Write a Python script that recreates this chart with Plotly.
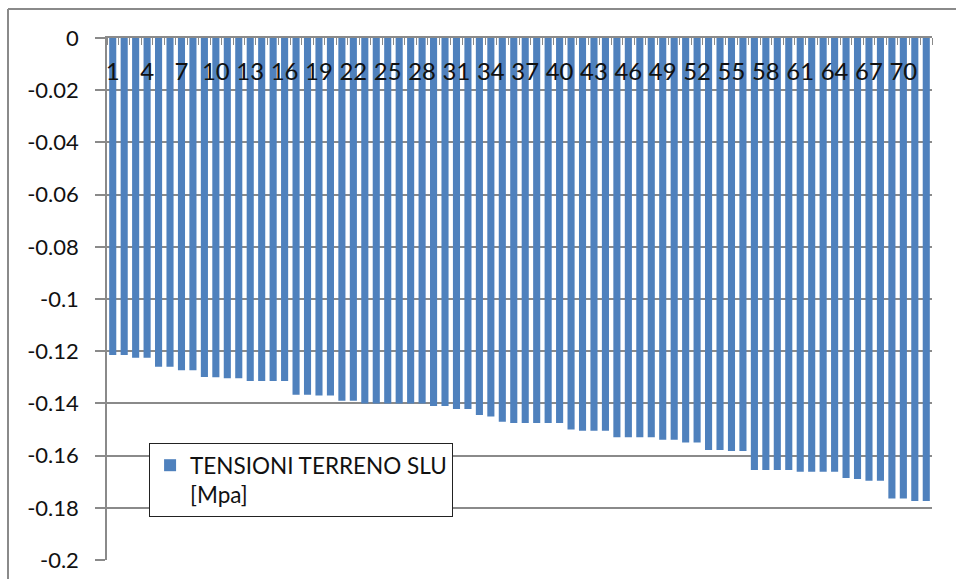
import plotly.graph_objects as go

categories = list(range(1, 73))
values = [
    -0.1215, -0.1215, -0.1225, -0.1225, -0.1260, -0.1260, -0.1273, -0.1273,
    -0.1299, -0.1300, -0.1304, -0.1304, -0.1314, -0.1314, -0.1314, -0.1314,
    -0.1367, -0.1367, -0.1370, -0.1370, -0.1390, -0.1390, -0.1400, -0.1400,
    -0.1400, -0.1400, -0.1400, -0.1400, -0.1410, -0.1410, -0.1421, -0.1421,
    -0.1444, -0.1450, -0.1470, -0.1475, -0.1475, -0.1475, -0.1475, -0.1475,
    -0.1500, -0.1505, -0.1505, -0.1505, -0.1530, -0.1530, -0.1530, -0.1530,
    -0.1539, -0.1539, -0.1550, -0.1550, -0.1579, -0.1579, -0.1582, -0.1582,
    -0.1655, -0.1655, -0.1655, -0.1655, -0.1662, -0.1662, -0.1662, -0.1662,
    -0.1686, -0.1690, -0.1696, -0.1696, -0.1764, -0.1764, -0.1774, -0.1774,
]
series_name = "TENSIONI TERRENO SLU<br>[Mpa]"
x_tick_vals = list(range(1, 73, 3))
y_tick_vals = [0, -0.02, -0.04, -0.06, -0.08, -0.1, -0.12, -0.14, -0.16, -0.18, -0.2]
y_tick_text = ["0", "-0.02", "-0.04", "-0.06", "-0.08", "-0.1", "-0.12", "-0.14", "-0.16", "-0.18", "-0.2"]

FONT = "Lato, 'Open Sans', sans-serif"
GRID = "#8a8a8a"

fig = go.Figure()
fig.add_trace(go.Bar(
    x=categories, y=values, name=series_name,
    marker=dict(color="#4F81BD", line=dict(width=0)),
    showlegend=True,
))

fig.update_layout(
    width=956, height=579,
    margin=dict(l=107, r=24, t=38, b=19, autoexpand=False),
    paper_bgcolor="white", plot_bgcolor="white",
    bargap=0.38,
    font=dict(family=FONT, size=22, color="#111111"),
    showlegend=True,
    legend=dict(
        x=0.051, y=0.224, xanchor="left", yanchor="top",
        bgcolor="white", bordercolor="#222222", borderwidth=1,
        font=dict(family=FONT, size=22.5, color="#111111"),
        valign="top",
        itemsizing="constant",
        entrywidth=294,
    ),
    xaxis=dict(
        range=[0.5, 72.5],
        side="top",
        automargin=False,
        tickmode="array", tickvals=x_tick_vals,
        ticktext=[str(v) for v in x_tick_vals],
        ticks="", ticklabelposition="inside",
        ticklabeloverflow="allow",
        ticklabelstandoff=27,
        showgrid=False, zeroline=False,
        showline=True, linecolor=GRID, linewidth=1.5,
        minor=dict(tick0=0.5, dtick=1, ticks="inside", ticklen=7,
                   tickcolor=GRID, tickwidth=1, showgrid=False),
        tickfont=dict(family=FONT, size=24, color="#111111"),
    ),
    yaxis=dict(
        range=[-0.2, 0],
        automargin=False,
        tickmode="array", tickvals=y_tick_vals, ticktext=y_tick_text,
        ticks="outside", ticklen=10, tickcolor=GRID, tickwidth=1.5,
        ticklabelstandoff=12,
        ticklabeloverflow="allow",
        showgrid=True, gridcolor=GRID, gridwidth=1.5,
        zeroline=False,
        showline=True, linecolor=GRID, linewidth=1.5,
        tickfont=dict(family=FONT, size=22, color="#111111"),
    ),
    shapes=[
        dict(type="line", xref="paper", yref="paper",
             x0=-0.12, x1=-0.12, y0=-0.1, y1=1.0556,
             line=dict(color="#8a8a8a", width=2), layer="below"),
        dict(type="line", xref="paper", yref="paper",
             x0=-0.12, x1=1.1, y0=1.0556, y1=1.0556,
             line=dict(color="#8a8a8a", width=2), layer="below"),
    ],
)

fig.write_html(
    "out.html",
    config={"displayModeBar": False},
    post_script="document.body.style.margin='0';document.body.style.overflow='hidden';",
)
